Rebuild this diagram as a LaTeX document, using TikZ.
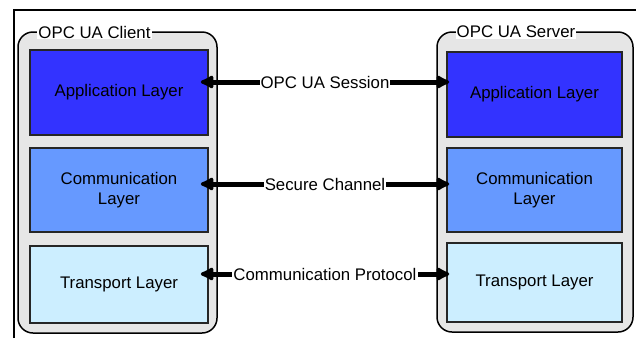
\documentclass[tikz,border=0pt]{standalone}
\usepackage{fontspec}
\setmainfont{Liberation Sans}
\usetikzlibrary{arrows.meta}

\definecolor{sidegray}{HTML}{E6E6E6}
\definecolor{applblue}{HTML}{3333FF}
\definecolor{commblue}{HTML}{6699FF}
\definecolor{tranblue}{HTML}{CCEEFF}

\begin{document}
\begin{tikzpicture}[x=1pt,y=-1pt,
  font=\fontsize{16.8}{20}\selectfont,
  side/.style={draw=black, line width=1.5pt, fill=sidegray, rounded corners=15pt},
  layer/.style={draw=black!85, line width=1.5pt, align=center, inner sep=0pt},
  title/.style={fill=white, inner sep=1pt},
  link/.style={line width=5pt,
    {Latex[round,length=16pt,width=16pt]}-{Latex[round,length=16pt,width=16pt]}},
  linklabel/.style={fill=white, inner sep=1pt}]

\useasboundingbox (0,0) rectangle (636,338);

%% outer frame
\draw[line width=2.5pt] (14,338) -- (14,10) -- (636,10);

%% client and server
\node[side, minimum width=199pt, minimum height=301pt] (client) at (117.5,182.5) {};
\node[side, minimum width=196pt, minimum height=300pt] (server) at (535,182) {};
\node[title] (ctitle) at (94.5,32) {OPC UA Client};
\node[title] (stitle) at (516,32) {OPC UA Server};

%% client layers
\node[layer, fill=applblue, minimum width=178pt, minimum height=85pt] (capp)  at (119,92.5)  {Application Layer};
\node[layer, fill=commblue, minimum width=178pt, minimum height=84pt] (ccomm) at (119,190)   {Communication\\Layer};
\node[layer, fill=tranblue, minimum width=178pt, minimum height=77pt] (ctran) at (119,284.5) {Transport Layer};

%% server layers
\node[layer, fill=applblue, minimum width=175pt, minimum height=85pt] (sapp)  at (534.5,94.5)  {Application Layer};
\node[layer, fill=commblue, minimum width=175pt, minimum height=84pt] (scomm) at (534.5,190)   {Communication\\Layer};
\node[layer, fill=tranblue, minimum width=175pt, minimum height=79pt] (stran) at (534.5,282.5) {Transport Layer};

%% links
\draw[link] ([shift={(-8,-10.5)}]capp.east) -- ([shift={(3,-12.5)}]sapp.west)
  node[midway, linklabel] {OPC UA Session};
\draw[link] ([shift={(-8,-6)}]ccomm.east) -- ([shift={(3,-6)}]scomm.west)
  node[midway, linklabel] {Secure Channel};
\draw[link] ([shift={(-8,-10.5)}]ctran.east) -- ([shift={(3,-8.5)}]stran.west)
  node[midway, linklabel] {Communication Protocol};
\end{tikzpicture}
\end{document}
